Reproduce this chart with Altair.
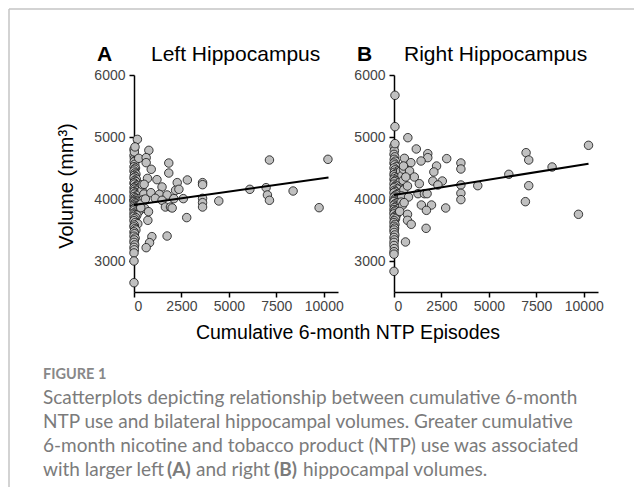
import altair as alt
import pandas as pd

# ---------------- data ----------------
# Left hippocampus: cumulative 6-month NTP episodes vs volume (mm3)
left_x = [
    # dense column near zero
    0, 20, 60, 10, 40, 0, 80, 30, 0, 50, 100, 15, 70, 0, 120, 40, 90, 0, 25, 150,
    60, 0, 200, 35, 110, 0, 75, 250, 20, 160, 0, 50, 300, 90, 10, 130, 0, 220, 45, 80,
    0, 180, 30, 350, 60, 0, 120, 15, 260, 70, 0, 40, 150, 0, 90, 20, 0, 60, 200, 10,
    0, 40, 100, 0, 25, 0, 60, 10, 0, 35, 0, 15, 0, 0, 0, 0, 20, 250,
    420, 520, 480, 380, 560, 440, 600,
    # scattered points
    178, 53, 783, 641, 641, 1833, 908, 1833, 1210, 712, 2812, 2278, 3613, 3613, 1477,
    534, 890, 2189, 2367, 1335, 1744, 1121, 1477, 2100, 2599, 1655, 1922, 2011, 3613,
    3613, 3613, 4468, 6105, 6960, 7031, 7138, 7138, 8384, 9754, 10220, 730, 943, 819,
    641, 1744, 2777, 765, 356,
]
left_y = [
    4700, 4650, 4620, 4600, 4560, 4520, 4500, 4480, 4450, 4420, 4400, 4380, 4360, 4340, 4320, 4300, 4280, 4260, 4240, 4220,
    4200, 4180, 4170, 4160, 4140, 4120, 4100, 4090, 4080, 4060, 4040, 4020, 4010, 4000, 3980, 3970, 3960, 3950, 3940, 3920,
    3900, 3890, 3880, 3870, 3860, 3840, 3830, 3820, 3800, 3790, 3770, 3750, 3740, 3720, 3700, 3680, 3650, 3620, 3600, 3580,
    3550, 3520, 3500, 3470, 3440, 3400, 3370, 3340, 3300, 3260, 3220, 3180, 3130, 3000, 2650, 4800, 4760, 4656,
    4150, 4080, 3990, 3920, 3850, 4230, 4000,
    4962, 4840, 4785, 4667, 4586, 4580, 4479, 4419, 4312, 4333, 4307, 4264, 4264, 4231, 4194,
    4237, 4102, 4140, 4156, 4075, 4065, 4011, 3979, 4006, 4006, 3871, 3871, 3855, 4011,
    3941, 3871, 3968, 4156, 4183, 4065, 3979, 4629, 4129, 3860, 4640, 3656, 3393, 3296,
    3215, 3403, 3700, 3796, 3860,
]

# Right hippocampus
right_x = [
    # dense column near zero
    0, 20, 0, 40, 10, 70, 0, 30, 120, 0, 50, 200, 15, 90, 0, 40, 150, 0, 70, 25,
    250, 0, 100, 45, 0, 180, 20, 60, 0, 300, 120, 35, 0, 80, 220, 10, 0, 150, 50, 0,
    100, 25, 260, 0, 60, 15, 0, 130, 40, 0, 80, 20, 0, 50, 0, 30, 0, 10, 40, 0,
    20, 0, 0, 15, 0, 0, 0,
    350, 420, 480, 520, 400, 380, 450, 300, 500, 560,
    # scattered points
    50, 50, 50, 730, 1175, 1780, 1780, 1425, 2777, 550, 890, 500, 2243, 3525, 3525,
    820, 2100, 1070, 620, 2047, 2545, 1335, 2314, 710, 3525, 3525, 3525, 4414, 1264,
    1602, 1744, 765, 534, 1442, 1976, 1709, 2723, 712, 712, 908, 1691, 605, 6052,
    6960, 7100, 7100, 6924, 8330, 9720, 10250,
]
right_y = [
    4850, 4780, 4720, 4680, 4640, 4610, 4580, 4550, 4520, 4500, 4470, 4450, 4430, 4410, 4390, 4360, 4340, 4320, 4300, 4280,
    4260, 4240, 4220, 4200, 4180, 4160, 4140, 4120, 4100, 4090, 4070, 4050, 4030, 4010, 4000, 3980, 3960, 3940, 3920, 3900,
    3880, 3860, 3850, 3830, 3810, 3790, 3760, 3740, 3720, 3700, 3680, 3650, 3620, 3590, 3560, 3530, 3500, 3460, 3420, 3380,
    3340, 3300, 3250, 3200, 3150, 3110, 2833,
    4450, 4380, 4300, 4150, 4050, 3950, 3900, 3800, 4480, 4550,
    5672, 5167, 4893, 4989, 4807, 4731, 4667, 4613, 4651, 4656, 4586, 4532, 4532, 4581, 4484,
    4452, 4436, 4355, 4355, 4290, 4290, 4247, 4226, 4210, 4226, 4092, 3990, 4215, 4086,
    4086, 4086, 4032, 3941, 3903, 3903, 3817, 3855, 3753, 3656, 3592, 3527, 3307, 4398,
    4747, 4629, 4215, 3957, 4516, 3753, 4866,
]

# regression lines (end points)
left_fit_x = [0, 10250]
left_fit_y = [3905, 4345]
right_fit_x = [0, 10250]
right_fit_y = [4065, 4570]

x_ticks = [0, 2500, 5000, 7500, 10000]
y_ticks = [3000, 3500, 4000, 4500, 5000, 5500, 6000]

# ---------------- chart ----------------
W, H = 204, 217
FONT = "Liberation Sans"
CAP_FONT = "Lato"
CAP_SIZE = 19
one = pd.DataFrame({"k": [0]})


def txt(text, x, y, size, weight="normal", color="black", font=FONT,
        align="left", baseline="alphabetic", angle=0):
    return alt.Chart(one).mark_text(
        text=text, fontSize=size, fontWeight=weight, color=color, font=font,
        align=align, baseline=baseline, angle=angle
    ).encode(x=alt.value(x), y=alt.value(y))


def panel(px, py, fx, fy, letter, name, name_dx, extra):
    pts = pd.DataFrame({"x": px, "y": py})
    fit = pd.DataFrame({"x": fx, "y": fy})
    xenc = alt.X("x:Q", scale=alt.Scale(domain=[0, 10750], nice=False, zero=False),
                 axis=alt.Axis(values=x_ticks, format="d", title=""))
    yenc = alt.Y("y:Q", scale=alt.Scale(domain=[2500, 6000], nice=False, zero=False),
                 axis=alt.Axis(values=y_ticks, format="d", title="", labelPadding=4,
                               labelExpr="datum.value % 1000 === 0 ? datum.label : ''"))
    scatter = alt.Chart(pts).mark_circle(
        size=72, color="#c0c0c0", opacity=1, stroke="#111111", strokeWidth=0.8
    ).encode(x=xenc, y=yenc)
    line = alt.Chart(fit).mark_line(color="black", strokeWidth=2).encode(x="x:Q", y="y:Q")
    layers = [scatter, line,
              txt(letter, -37, -14, 21, weight="bold"),
              txt(name, name_dx, -14, 21)] + extra
    return alt.layer(*layers).properties(width=W, height=H)


frame_col = "#c4c4c4"
cap_col = "#7b7b7b"


def cap(text, x, y, weight="normal"):
    return txt(text, x, y, CAP_SIZE, weight=weight, color=cap_col, font=CAP_FONT, baseline="middle")


extra_left = [
    alt.Chart(one).mark_rule(color=frame_col, strokeWidth=1.5).encode(
        x=alt.value(-125), x2=alt.value(500), y=alt.value(-66)),
    alt.Chart(one).mark_rule(color=frame_col, strokeWidth=1.5).encode(
        x=alt.value(-125), y=alt.value(-66), y2=alt.value(412)),
    txt("Volume (mm³)", -67, 111, 20, align="center", baseline="middle", angle=270),
    txt("Cumulative 6-month NTP Episodes", 214, 258, 19.5, align="center", baseline="middle"),
    txt("FIGURE 1", -91, 300, 14.5, weight="bold", color="#888888", font=CAP_FONT, baseline="middle"),
    cap("Scatterplots depicting relationship between cumulative 6-month", -91, 323),
    cap("NTP use and bilateral hippocampal volumes. Greater cumulative", -91, 347),
    cap("6-month nicotine and tobacco product (NTP) use was associated", -91, 371),
    cap("with larger left", -91, 395),
    cap("(A)", 33, 395, weight="bold"),
    cap("and right", 62, 395),
    cap("(B)", 140, 395, weight="bold"),
    cap("hippocampal volumes.", 169, 395),
]

left = panel(left_x, left_y, left_fit_x, left_fit_y, "A", "Left Hippocampus", 17, extra_left)
right = panel(right_x, right_y, right_fit_x, right_fit_y, "B", "Right Hippocampus", 10, [])

chart = alt.hconcat(left, right, spacing=56, bounds="flush").resolve_scale(
    x="independent", y="independent"
).properties(padding=0).configure_view(stroke=None).configure_axis(
    domainColor="black", domainWidth=1.5, tickColor="black", tickWidth=1.5, tickSize=5,
    labelColor="#444444", labelFont=FONT, labelFontSize=14, grid=False, labelPadding=2
)

chart.save("out.html", embed_options={"renderer": "svg", "actions": False})
